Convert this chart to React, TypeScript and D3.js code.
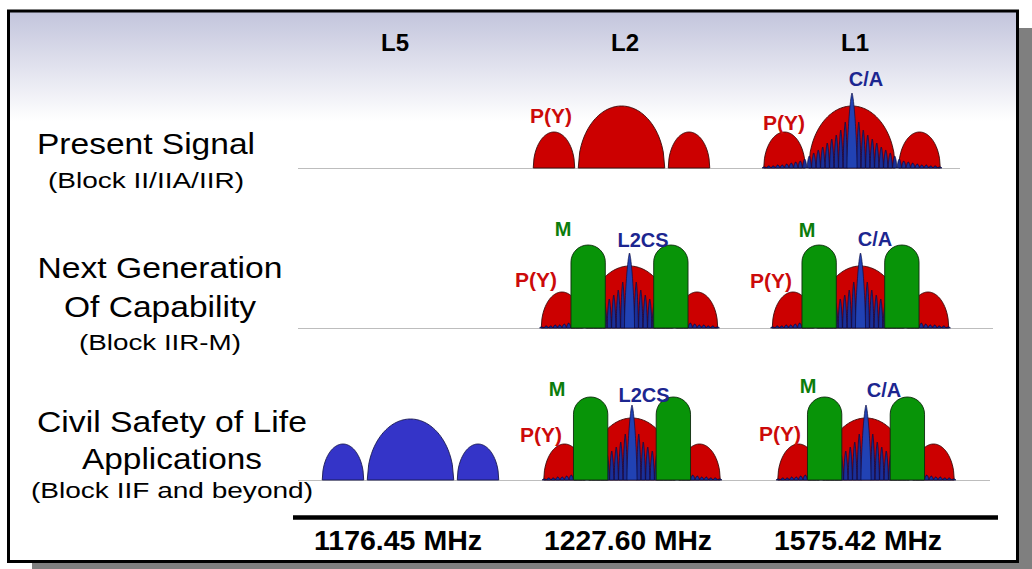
import * as React from 'react';
import * as d3 from 'd3';

// ---- data ----
const bands = ['L5', 'L2', 'L1'];
const bandFrequencies = ['1176.45 MHz', '1227.60 MHz', '1575.42 MHz'];
const rowTitles = [['Present Signal'], ['Next Generation', 'Of Capability'], ['Civil Safety of Life', 'Applications']];
const rowSubtitles = ['(Block II/IIA/IIR)', '(Block IIR-M)', '(Block IIF and beyond)'];

// lobes as [start MHz, end MHz, relative level]
const pyLobes = [[-20.46, -10.23, 36], [-10.23, 10.23, 62], [10.23, 20.46, 36]];
const l5Lobes = [[-20.46, -10.23, 36], [-10.23, 10.23, 61], [10.23, 20.46, 36]];
const mLobes = [[-13.3, -5.5, 83], [5.5, 13.3, 83]];
const chipRateMHz = 1.023;
const civilPeak = 75;
const civilSidelobes = [46, 38, 33, 29, 25, 21, 18, 15, 12, 9, 7, 6, 5, 4, 3, 3, 2, 2, 1];

const rowSignals = [
    [{band: 'L2', signals: ['P(Y)']}, {band: 'L1', signals: ['P(Y)', 'C/A']}],
    [{band: 'L2', signals: ['P(Y)', 'L2CS', 'M']}, {band: 'L1', signals: ['P(Y)', 'C/A', 'M']}],
    [{band: 'L5', signals: ['L5']}, {band: 'L2', signals: ['P(Y)', 'L2CS', 'M']}, {band: 'L1', signals: ['P(Y)', 'C/A', 'M']}],
];

// ---- layout ----
const W = 1032;
const H = 569;
const FONT = '"Liberation Sans", Arial, Helvetica, sans-serif';
const rowBaselines = [168, 328, 480];
const rowLineEnds = [960, 993, 990];
const rowNudge: any[] = [{L2: -3.5, L1: -3}, {L2: 4.5, L1: 5.5}, {L5: 15.5, L2: 7, L1: 11}];
const pxPerMHz = 4.4;

const titleLayout = [
    {x: 146, ys: [154], widths: [218], subY: 188, subW: 196},
    {x: 160, ys: [278, 317], widths: [245, 192], subY: 350, subW: 162},
    {x: 172, ys: [432, 469], widths: [270, 180], subY: 498, subW: 282},
];

// label placement: [dx from band centre, baseline y]
const labelLayout: any = {
    '0-L2-P(Y)': [-70.5, 123],
    '0-L1-P(Y)': [-68, 130],
    '0-L1-C/A': [14, 86],
    '1-L2-M': [-66.5, 236],
    '1-L2-L2CS': [13.5, 247],
    '1-L2-P(Y)': [-93.5, 287],
    '1-L1-M': [-53.5, 237],
    '1-L1-C/A': [14.5, 246],
    '1-L1-P(Y)': [-89.5, 288],
    '2-L2-M': [-75, 396],
    '2-L2-L2CS': [12, 402],
    '2-L2-P(Y)': [-91, 442],
    '2-L1-M': [-58, 393],
    '2-L1-C/A': [18, 397],
    '2-L1-P(Y)': [-86, 441],
};

const colors: any = {
    'P(Y)': {fill: '#cc0000', stroke: '#3a0a0a', text: '#cc0a0a'},
    'M': {fill: '#089408', stroke: '#0f2a0f', text: '#0c7d0c'},
    'C/A': {fill: '#1f3aa8', stroke: '#0b0b40', text: '#1c2690'},
    'L2CS': {fill: '#1f3aa8', stroke: '#0b0b40', text: '#1c2690'},
    'L5': {fill: '#3434c8', stroke: '#1a1a50', text: '#1c2690'},
};

const bandX = d3.scalePoint<string>().domain(bands).range([395, 855]);

function domePath(x: any, y: any, a: number, b: number, level: number, p: number, inset: number): string {
    const mid = (a + b) / 2;
    const half = (b - a) / 2 - inset;
    const pts: [number, number][] = d3.range(0, 61).map((i) => {
        const u = -1 + i / 30;
        const h = level * Math.pow(Math.max(0, 1 - Math.pow(Math.abs(u), p)), 1 / p);
        return [x(mid + u * half), y(h)];
    });
    return d3.line()(pts) + 'Z';
}

function stadiumPath(x: any, y: any, a: number, b: number, level: number): string {
    const x0 = x(a);
    const x1 = x(b);
    const r = (x1 - x0) / 2;
    const top = y(level);
    const base = y(0);
    const p = d3.path();
    p.moveTo(x0, base);
    p.lineTo(x0, top + r);
    p.arc(x0 + r, top + r, r, Math.PI, 0);
    p.lineTo(x1, base);
    p.closePath();
    return p.toString();
}

function civilLobes(): number[][] {
    const lobes: number[][] = [];
    civilSidelobes.forEach((lv, k) => {
        const s = (k + 1) * chipRateMHz;
        lobes.push([s, s + chipRateMHz, lv]);
        lobes.push([-s - chipRateMHz, -s, lv]);
    });
    // main lobe last so it sits on top of the comb
    lobes.push([-chipRateMHz * 1.15, chipRateMHz * 1.15, civilPeak]);
    return lobes;
}

function BandSpectrum({row, band, signals}: {row: number, band: string, signals: string[]}) {
    const cx = (bandX(band) as number) + (rowNudge[row][band] || 0);
    const base = rowBaselines[row];
    const x = d3.scaleLinear().domain([-20.46, 20.46]).range([cx - 20.46 * pxPerMHz, cx + 20.46 * pxPerMHz]);
    const y = d3.scaleLinear().domain([0, 100]).range([base, base - 100]);
    const order = ['P(Y)', 'L5', 'C/A', 'L2CS', 'M'].filter((s) => signals.includes(s));
    return (
        <g>
            {order.map((sig) => {
                const c = colors[sig];
                if (sig === 'P(Y)' || sig === 'L5') {
                    const lobes = sig === 'P(Y)' ? pyLobes : l5Lobes;
                    return lobes.map((l, i) => (
                        <path key={sig + i} d={domePath(x, y, l[0], l[1], l[2], 2, 0.4)}
                              fill={c.fill} stroke={c.stroke} strokeWidth={0.9}/>
                    ));
                }
                if (sig === 'M') {
                    return mLobes.map((l, i) => (
                        <path key={sig + i} d={stadiumPath(x, y, l[0], l[1], l[2])}
                              fill={c.fill} stroke={c.stroke} strokeWidth={0.9}/>
                    ));
                }
                const lobes = civilLobes();
                return lobes.map((l, i) => {
                    const main = i === lobes.length - 1;
                    return (
                        <path key={sig + i} d={domePath(x, y, l[0], l[1], l[2], main ? 1.5 : 1.5, 0.03)}
                              fill={main ? '#2142b4' : '#1a2f98'} stroke={c.stroke} strokeWidth={main ? 0.7 : 0.8}/>
                    );
                });
            })}
            {signals.filter((s) => labelLayout[`${row}-${band}-${s}`]).map((s) => {
                const [dx, ty] = labelLayout[`${row}-${band}-${s}`];
                return (
                    <text key={'t' + s} x={cx + dx} y={ty} textAnchor="middle" fontFamily={FONT}
                          fontWeight="bold" fontSize={s === 'P(Y)' ? 21 : 20} fill={colors[s].text}>{s}</text>
                );
            })}
        </g>
    );
}

export default function App() {
    return (
        <svg width={W} height={H} viewBox={`0 0 ${W} ${H}`}
             style={{position: 'absolute', left: 0, top: 0, display: 'block', background: '#fff'}}>
            <defs>
                <linearGradient id="bg" x1="0" y1="0" x2="0" y2="1">
                    <stop offset="0" stopColor="#c2c4dc"/>
                    <stop offset="0.2" stopColor="#ffffff"/>
                    <stop offset="1" stopColor="#ffffff"/>
                </linearGradient>
            </defs>
            {/* drop shadow */}
            <rect x={1019} y={28} width={13} height={541} fill="#7f7f7f"/>
            <rect x={32} y={563} width={1000} height={6} fill="#7f7f7f"/>
            <rect x={8.5} y={11} width={1009} height={550.5} fill="url(#bg)" stroke="#000" strokeWidth={3}/>

            {bands.map((b) => (
                <text key={b} x={bandX(b)} y={51} textAnchor="middle" fontFamily={FONT}
                      fontWeight="bold" fontSize={24} fill="#000">{b}</text>
            ))}

            {rowBaselines.map((by, i) => (
                <line key={i} x1={298} x2={rowLineEnds[i]} y1={by + 0.5} y2={by + 0.5} stroke="#bdbdbd" strokeWidth={1}/>
            ))}

            {rowSignals.map((row, r) => row.map((entry) => (
                <BandSpectrum key={r + entry.band} row={r} band={entry.band} signals={entry.signals}/>
            )))}

            {rowTitles.map((lines, r) => (
                <g key={r} fontFamily={FONT} fill="#000">
                    {lines.map((t, i) => (
                        <text key={t} x={titleLayout[r].x} y={titleLayout[r].ys[i]} textAnchor="middle"
                              fontSize={30} textLength={titleLayout[r].widths[i]}
                              lengthAdjust="spacingAndGlyphs">{t}</text>
                    ))}
                    <text x={titleLayout[r].x} y={titleLayout[r].subY} textAnchor="middle" fontSize={22}
                          textLength={titleLayout[r].subW} lengthAdjust="spacingAndGlyphs">{rowSubtitles[r]}</text>
                </g>
            ))}

            <line x1={293} x2={998} y1={517.5} y2={517.5} stroke="#000" strokeWidth={4.5}/>
            {bandFrequencies.map((f, i) => (
                <text key={f} x={(bandX(bands[i]) as number) + 3} y={550} textAnchor="middle" fontFamily={FONT}
                      fontWeight="bold" fontSize={27} textLength={168} lengthAdjust="spacingAndGlyphs">{f}</text>
            ))}
        </svg>
    );
}
